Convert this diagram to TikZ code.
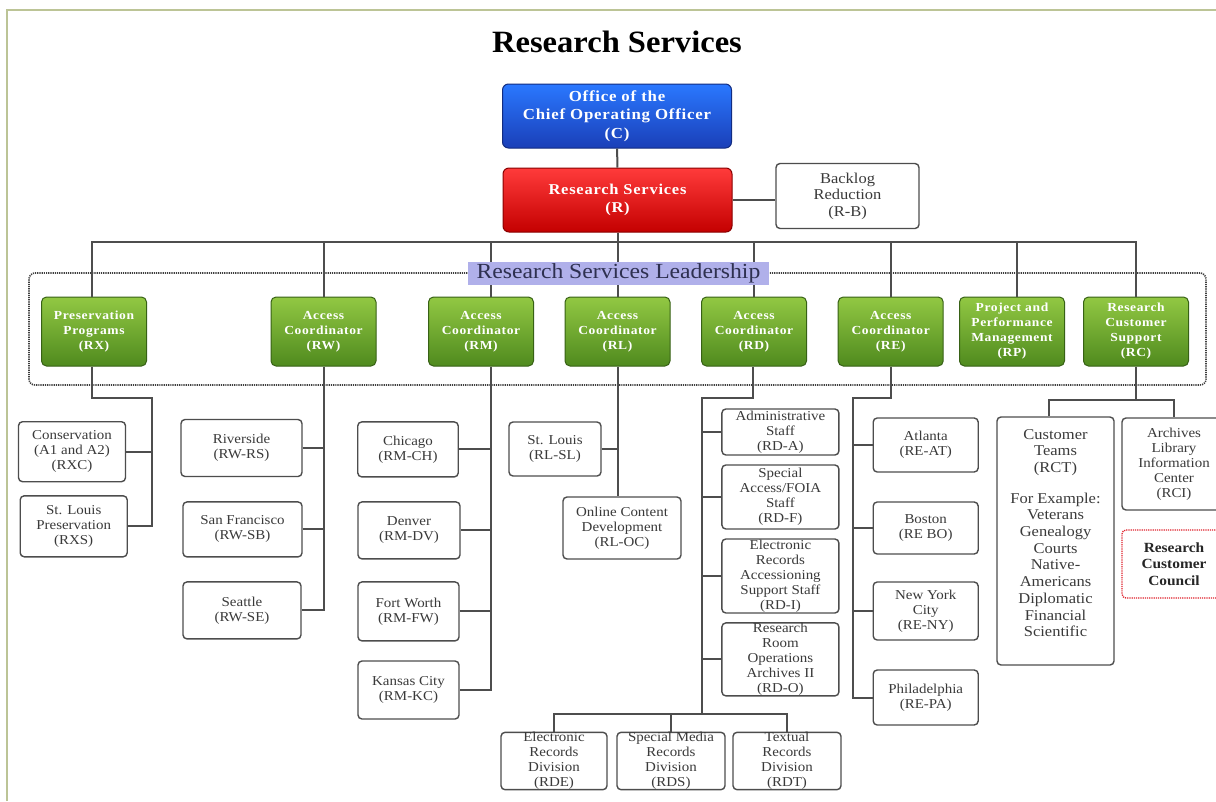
\documentclass[tikz,border=0pt]{standalone}
\usepackage{fontspec}
\setmainfont{Liberation Serif}[FakeStretch=1.1]
\newfontfamily\titlefont{Liberation Serif}[FakeStretch=1.05]
\newfontfamily\spacedfont{Liberation Serif}[FakeStretch=1.1,LetterSpace=5]
\usetikzlibrary{calc}
\definecolor{lc}{HTML}{4D4D4D}
\definecolor{tc}{HTML}{3A3A3A}
\definecolor{btop}{HTML}{2A78FF}
\definecolor{bbot}{HTML}{1A3FB8}
\definecolor{rtop}{HTML}{FF3B3B}
\definecolor{rbot}{HTML}{C40000}
\definecolor{gtop}{HTML}{92C843}
\definecolor{gbot}{HTML}{4F8A1E}
\definecolor{lbl}{HTML}{B0B0EA}
\definecolor{ltxt}{HTML}{2E3050}
\definecolor{framec}{HTML}{BCC496}
\definecolor{councilred}{HTML}{E0202A}
\tikzset{
  wbox/.style={draw=lc, line width=1.4pt, rounded corners=4pt, fill=white, align=center,
    text=tc, inner sep=0pt, font=\fontsize{13.6}{15}\selectfont},
  gbox/.style={draw=gbot!70!black, line width=1pt, rounded corners=5pt, top color=gtop, bottom color=gbot,
    text=white, align=center, inner sep=0pt, font=\spacedfont\bfseries\fontsize{12.3}{15}\selectfont,
    minimum width=105pt, minimum height=69pt},
  bigbox/.style={line width=1pt, rounded corners=6pt, text=white, align=center, inner sep=0pt,
    minimum width=229pt, minimum height=64pt},
  conn/.style={draw=lc, line width=2pt},
}
\begin{document}
\begin{tikzpicture}[x=1pt,y=-1pt]
\useasboundingbox (0,0) rectangle (1216,801);
\fill[white] (0,0) rectangle (1216,801);
\draw[framec, line width=2pt] (7,801) -- (7,10) -- (1216,10);

% title
\node[font=\titlefont\bfseries\fontsize{31}{33}\selectfont, text=black] (title) at (617,42) {Research Services};

% top boxes
\node[bigbox, draw=bbot!70!black, top color=btop, bottom color=bbot, font=\spacedfont\bfseries\fontsize{15.3}{18.5}\selectfont] (C) at (617,116) {Office of the\\Chief Operating Officer\\(C)};
\node[bigbox, draw=rbot!70!black, top color=rtop, bottom color=rbot, font=\spacedfont\bfseries\fontsize{15}{18}\selectfont] (R) at (617.5,200) {Research Services\\(R)};
\node[wbox, minimum width=143pt, minimum height=65pt, font=\fontsize{15}{16.5}\selectfont] (RB) at (847.5,196) {Backlog\\Reduction\\(R-B)};
\draw[conn] (C) -- (R);
\draw[conn] (R.east) -- (R.east -| RB.west);

% leadership container
\node[draw=lc!80!black, line width=1.6pt, dash pattern=on 1.2pt off 1pt, rounded corners=6pt, minimum width=1177pt, minimum height=112pt, inner sep=0pt] (lead) at (617.5,329) {};

% green boxes
\node[gbox] (RX) at (94,331.5) {Preservation\\Programs\\(RX)};
\node[gbox] (RW) at (323.5,331.5) {Access\\Coordinator\\(RW)};
\node[gbox] (RM) at (481,331.5) {Access\\Coordinator\\(RM)};
\node[gbox] (RL) at (617.5,331.5) {Access\\Coordinator\\(RL)};
\node[gbox] (RD) at (754,331.5) {Access\\Coordinator\\(RD)};
\node[gbox] (RE) at (890.7,331.5) {Access\\Coordinator\\(RE)};
\node[gbox] (RP) at (1012,331.5) {Project and\\Performance\\Management\\(RP)};
\node[gbox] (RC) at (1136,331.5) {Research\\Customer\\Support\\(RC)};

% bus
\coordinate (bus) at (0,242);
\coordinate (rmtop) at ([xshift=10pt]RM.north);
\coordinate (rptop) at ([xshift=4.5pt]RP.north);
\draw[conn] (R.south) -- (R.south |- bus);
\draw[conn] ([xshift=-2pt]RX.north) -- ([xshift=-2pt]RX.north |- bus) -- (RC.north |- bus) -- (RC.north);
\draw[conn] (RW.north) -- (RW.north |- bus);
\draw[conn] (rmtop) -- (rmtop |- bus);
\draw[conn] (RL.north) -- (RL.north |- bus);
\draw[conn] (RD.north) -- (RD.north |- bus);
\draw[conn] (RE.north) -- (RE.north |- bus);
\draw[conn] (rptop) -- (rptop |- bus);

\node[fill=lbl, inner sep=0pt, minimum width=301pt, minimum height=23pt, font=\fontsize{21.5}{22}\selectfont, text=ltxt] (leadlbl) at (618.5,273.5) {Research Services Leadership};

% RX column
\node[wbox, minimum width=107pt, minimum height=60pt] (RXC) at (72,451.7) {Conservation\\(A1 and A2)\\(RXC)};
\node[wbox, minimum width=107pt, minimum height=61pt] (RXS) at (73.7,526.3) {St. Louis\\Preservation\\(RXS)};
\coordinate (rxt) at (152,398);
\draw[conn] ([xshift=-2pt]RX.south) |- (rxt) |- (RXS.east);
\draw[conn] (RXC.east) -- (RXC.east -| rxt);

% RW column
\node[wbox, minimum width=121pt, minimum height=57pt] (RWRS) at (241.5,448) {Riverside\\(RW-RS)};
\node[wbox, minimum width=119pt, minimum height=55pt] (RWSB) at (242.5,529.4) {San Francisco\\(RW-SB)};
\node[wbox, minimum width=118pt, minimum height=57pt] (RWSE) at (242,610.4) {Seattle\\(RW-SE)};
\draw[conn] (RW.south) |- (RWSE.east);
\draw[conn] (RWRS.east) -- (RWRS.east -| RW.south);
\draw[conn] (RWSB.east) -- (RWSB.east -| RW.south);

% RM column
\node[wbox, minimum width=100.5pt, minimum height=55pt] (RMCH) at (408,449.4) {Chicago\\(RM-CH)};
\node[wbox, minimum width=102pt, minimum height=57pt] (RMDV) at (409,530.4) {Denver\\(RM-DV)};
\node[wbox, minimum width=101pt, minimum height=59pt] (RMFW) at (408.5,611.4) {Fort Worth\\(RM-FW)};
\node[wbox, minimum width=101pt, minimum height=58pt] (RMKC) at (408.5,690) {Kansas City\\(RM-KC)};
\coordinate (rmv) at ([xshift=10pt]RM.south);
\draw[conn] (rmv) |- (RMKC.east);
\draw[conn] (RMCH.east) -- (RMCH.east -| rmv);
\draw[conn] (RMDV.east) -- (RMDV.east -| rmv);
\draw[conn] (RMFW.east) -- (RMFW.east -| rmv);

% RL column
\node[wbox, minimum width=92pt, minimum height=54pt] (RLSL) at (555,449) {St. Louis\\(RL-SL)};
\node[wbox, minimum width=118pt, minimum height=62pt] (RLOC) at (622,528) {Online Content\\Development\\(RL-OC)};
\draw[conn] (RL.south) -- (RL.south |- RLOC.north);
\draw[conn] (RLSL.east) -- (RLSL.east -| RL.south);

% RD column
\node[wbox, minimum width=117pt, minimum height=46pt] (RDA) at (780.4,432) {Administrative\\Staff\\(RD-A)};
\node[wbox, minimum width=117pt, minimum height=64pt] (RDF) at (780.4,497) {Special\\Access/FOIA\\Staff\\(RD-F)};
\node[wbox, minimum width=117pt, minimum height=74pt] (RDI) at (780.4,576) {Electronic\\Records\\Accessioning\\Support Staff\\(RD-I)};
\node[wbox, minimum width=117pt, minimum height=73pt] (RDO) at (780.4,659.4) {Research\\Room\\Operations\\Archives II\\(RD-O)};
\coordinate (rdt) at (701.7,398);
\coordinate (rdb) at (701.7,714);
\draw[conn] ([xshift=-1pt]RD.south) |- (rdt) -- (rdb);
\draw[conn] (RDA.west) -- (RDA.west -| rdt);
\draw[conn] (RDF.west) -- (RDF.west -| rdt);
\draw[conn] (RDI.west) -- (RDI.west -| rdt);
\draw[conn] (RDO.west) -- (RDO.west -| rdt);
\node[wbox, minimum width=106pt, minimum height=56pt] (RDE) at (554,761) {Electronic\\Records\\Division\\(RDE)};
\node[wbox, minimum width=108pt, minimum height=56pt] (RDS) at (671,761) {Special Media\\Records\\Division\\(RDS)};
\node[wbox, minimum width=108pt, minimum height=56pt] (RDT) at (787,761) {Textual\\Records\\Division\\(RDT)};
\draw[conn] (RDE.north) -- (RDE.north |- rdb) -- (RDT.north |- rdb) -- (RDT.north);
\draw[conn] (RDS.north) -- (RDS.north |- rdb);

% RE column
\node[wbox, minimum width=105pt, minimum height=54pt] (REAT) at (925.7,445) {Atlanta\\(RE-AT)};
\node[wbox, minimum width=105pt, minimum height=52pt] (REBO) at (925.7,528) {Boston\\(RE BO)};
\node[wbox, minimum width=105pt, minimum height=58pt] (RENY) at (925.7,611) {New York\\City\\(RE-NY)};
\node[wbox, minimum width=105pt, minimum height=55pt] (REPA) at (925.7,697.5) {Philadelphia\\(RE-PA)};
\coordinate (ret) at (853.3,398);
\draw[conn] (RE.south) |- (ret) |- (REPA.west);
\draw[conn] (REAT.west) -- (REAT.west -| ret);
\draw[conn] (REBO.west) -- (REBO.west -| ret);
\draw[conn] (RENY.west) -- (RENY.west -| ret);

% RC column
\node[wbox, minimum width=117pt, minimum height=248pt] (RCT) at (1055.5,541) {};
\node[align=center, text=tc, inner sep=0pt, font=\fontsize{15}{16.7}\selectfont] (RCTtext) at ([yshift=8pt]RCT.center) {Customer\\Teams\\(RCT)\\[14pt]For Example:\\Veterans\\Genealogy\\Courts\\Native-\\Americans\\Diplomatic\\Financial\\Scientific};
\node[wbox, minimum width=104pt, minimum height=92pt] (RCI) at (1174,464) {Archives\\Library\\Information\\Center\\(RCI)};
\node[draw=councilred, line width=1.3pt, dash pattern=on 1.2pt off 1pt, rounded corners=4pt, fill=white, align=center, text=black!85, inner sep=0pt, minimum width=104pt, minimum height=68pt, font=\bfseries\fontsize{14}{16.7}\selectfont] (RCC) at (1174,564) {Research\\Customer\\Council};
\coordinate (rct) at (1136,400);
\coordinate (rcl) at ([xshift=-6.5pt]RCT.north);
\draw[conn] (RC.south) -- (rct);
\draw[conn] (rcl) |- (rct) -| (RCI.north);
\end{tikzpicture}
\end{document}
